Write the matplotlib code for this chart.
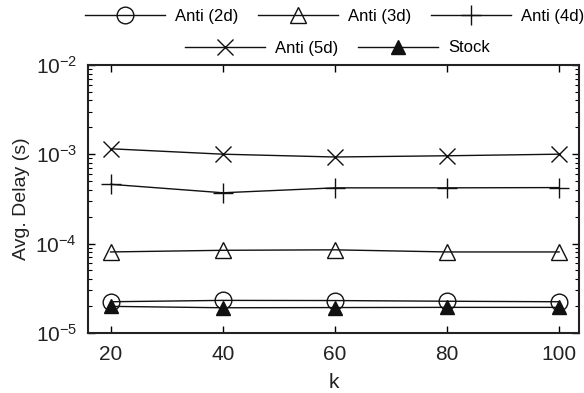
import matplotlib
matplotlib.use("Agg")
import matplotlib.pyplot as plt

plt.rcParams['font.family'] = ['Liberation Sans', 'DejaVu Sans']
plt.rcParams['mathtext.fontset'] = 'custom'
plt.rcParams['mathtext.rm'] = 'Liberation Sans'

k = [20, 40, 60, 80, 100]
anti_2d = [2.23e-5, 2.31e-5, 2.30e-5, 2.26e-5, 2.23e-5]
anti_3d = [8.05e-5, 8.4e-5, 8.5e-5, 8.05e-5, 8.05e-5]
anti_4d = [4.6e-4, 3.7e-4, 4.2e-4, 4.2e-4, 4.23e-4]
anti_5d = [1.15e-3, 1.0e-3, 0.93e-3, 0.96e-3, 1.0e-3]
stock = [1.98e-5, 1.91e-5, 1.92e-5, 1.93e-5, 1.93e-5]

series = [
    ('Anti (2d)', anti_2d, dict(marker='o', mfc='none', ms=12)),
    ('Anti (3d)', anti_3d, dict(marker='^', mfc='none', ms=12)),
    ('Anti (4d)', anti_4d, dict(marker='+', ms=14)),
    ('Anti (5d)', anti_5d, dict(marker='x', ms=12)),
    ('Stock', stock, dict(marker='^', mfc='#111111', ms=10)),
]

fig = plt.figure(figsize=(5.84, 3.93), dpi=100)
ax = fig.add_axes([0.151, 0.153, 0.84, 0.682])

handles = []
for label, vals, style in series:
    h, = ax.plot(k, vals, color='#111111', lw=1.0, mec='#111111', mew=1.0,
                 label=label, **style)
    handles.append(h)

ax.set_yscale('log')
ax.set_ylim(1e-5, 1e-2)
ax.set_xlim(16, 103.5)
ax.set_xticks(k)
ax.set_xlabel('k', fontsize=15, labelpad=6, color='#222222')
ax.set_ylabel('Avg. Delay (s)', fontsize=14, labelpad=4, color='#222222')

ax.tick_params(which='both', direction='in', top=True, right=True,
               labelsize=15, labelcolor='#222222')
ax.tick_params(axis='x', pad=9)
ax.tick_params(axis='y', pad=8)
ax.tick_params(which='major', length=5, width=1)
ax.tick_params(which='minor', length=3, width=0.8)
ax.tick_params(axis='x', which='minor', bottom=False, top=False)
for sp in ax.spines.values():
    sp.set_linewidth(1.5)
    sp.set_color('#222222')

# Legend laid out in two centred rows above the axes
leg_kw = dict(frameon=False, fontsize=12, handlelength=4.8, handletextpad=0.6,
              columnspacing=1.2, borderaxespad=0, borderpad=0)
row1 = fig.legend(handles[:3], [h.get_label() for h in handles[:3]], ncol=3,
                  loc='center', bbox_to_anchor=(0.573, 1 - 16 / 393), **leg_kw)
row2 = fig.legend(handles[3:], [h.get_label() for h in handles[3:]], ncol=2,
                  loc='center', bbox_to_anchor=(0.578, 1 - 48 / 393), **leg_kw)

fig.savefig('out.png', dpi=100)
